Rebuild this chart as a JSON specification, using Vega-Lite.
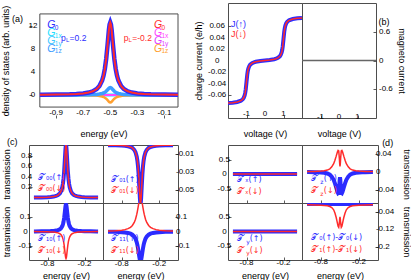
{
"$schema": "https://vega.github.io/schema/vega-lite/v6.json",
"padding": {"left": 1, "top": 0, "right": 0, "bottom": 0},
"background": "white",
"config": {
 "view": {"stroke": "#4d4d4d", "strokeWidth": 1},
 "axis": {"domain": false, "grid": false, "labels": false, "tickSize": -3, "tickColor": "#333", "tickWidth": 0.8, "titleFont": "Liberation Sans", "titleFontSize": 9, "titleFontWeight": "normal", "titleColor": "#000"},
 "text": {"font": "Liberation Sans", "fontSize": 8}
},
"datasets": {
 "dos": [
  {"E":-1.02,"G0":0.042,"G1p":0.004,"G1m":-0.004,"T00":0.0033,"T01":-0.0002,"T10u":0.0006,"T10d":-0.0006,"T11u":-0.0016,"T11d":0.0032,"Tzu":-0.0005,"Tzd":0.0005,"D0":-0.004,"D1":-0.008,"Tx":0,"Ty":0},
  {"E":-1.0,"G0":0.045,"G1p":0.005,"G1m":-0.005,"T00":0.0036,"T01":-0.0002,"T10u":0.0007,"T10d":-0.0007,"T11u":-0.0017,"T11d":0.0034,"Tzu":-0.0005,"Tzd":0.0005,"D0":-0.004,"D1":-0.008,"Tx":0,"Ty":0},
  {"E":-0.9,"G0":0.071,"G1p":0.007,"G1m":-0.007,"T00":0.0056,"T01":-0.0004,"T10u":0.0011,"T10d":-0.0011,"T11u":-0.0026,"T11d":0.0053,"Tzu":-0.0008,"Tzd":0.0008,"D0":-0.004,"D1":-0.009,"Tx":0,"Ty":0},
  {"E":-0.8,"G0":0.125,"G1p":0.013,"G1m":-0.013,"T00":0.0099,"T01":-0.0007,"T10u":0.0019,"T10d":-0.0019,"T11u":-0.0046,"T11d":0.0092,"Tzu":-0.0015,"Tzd":0.0015,"D0":-0.004,"D1":-0.01,"Tx":0,"Ty":0},
  {"E":-0.75,"G0":0.179,"G1p":0.018,"G1m":-0.018,"T00":0.0142,"T01":-0.0009,"T10u":0.0027,"T10d":-0.0027,"T11u":-0.0066,"T11d":0.0131,"Tzu":-0.0022,"Tzd":0.0022,"D0":-0.004,"D1":-0.011,"Tx":0,"Ty":0},
  {"E":-0.7,"G0":0.277,"G1p":0.029,"G1m":-0.029,"T00":0.022,"T01":-0.0015,"T10u":0.0042,"T10d":-0.0042,"T11u":-0.0101,"T11d":0.0198,"Tzu":-0.0038,"Tzd":0.0038,"D0":-0.004,"D1":-0.013,"Tx":0,"Ty":0},
  {"E":-0.66,"G0":0.428,"G1p":0.044,"G1m":-0.044,"T00":0.034,"T01":-0.0022,"T10u":0.0065,"T10d":-0.0065,"T11u":-0.0154,"T11d":0.0296,"Tzu":-0.0065,"Tzd":0.0065,"D0":-0.004,"D1":-0.016,"Tx":0,"Ty":0},
  {"E":-0.63,"G0":0.638,"G1p":0.066,"G1m":-0.066,"T00":0.0506,"T01":-0.0033,"T10u":0.0096,"T10d":-0.0096,"T11u":-0.0225,"T11d":0.0421,"Tzu":-0.011,"Tzd":0.011,"D0":-0.004,"D1":-0.021,"Tx":0,"Ty":0},
  {"E":-0.6,"G0":1.041,"G1p":0.107,"G1m":-0.107,"T00":0.0826,"T01":-0.0055,"T10u":0.0157,"T10d":-0.0157,"T11u":-0.0354,"T11d":0.0635,"Tzu":-0.018,"Tzd":0.018,"D0":-0.004,"D1":-0.031,"Tx":0,"Ty":0},
  {"E":-0.58,"G0":1.554,"G1p":0.16,"G1m":-0.16,"T00":0.1233,"T01":-0.0081,"T10u":0.0234,"T10d":-0.0234,"T11u":-0.0505,"T11d":0.0864,"Tzu":-0.026,"Tzd":0.026,"D0":-0.004,"D1":-0.046,"Tx":0,"Ty":0},
  {"E":-0.56,"G0":2.52,"G1p":0.26,"G1m":-0.26,"T00":0.2,"T01":-0.0132,"T10u":0.038,"T10d":-0.038,"T11u":-0.0756,"T11d":0.12,"Tzu":-0.035,"Tzd":0.035,"D0":-0.004,"D1":-0.066,"Tx":0,"Ty":0},
  {"E":-0.55,"G0":3.335,"G1p":0.344,"G1m":-0.344,"T00":0.2647,"T01":-0.0175,"T10u":0.0503,"T10d":-0.0503,"T11u":-0.094,"T11d":0.1416,"Tzu":-0.04,"Tzd":0.04,"D0":-0.004,"D1":-0.079,"Tx":0,"Ty":0},
  {"E":-0.54,"G0":4.536,"G1p":0.468,"G1m":-0.468,"T00":0.36,"T01":-0.0238,"T10u":0.0684,"T10d":-0.0684,"T11u":-0.1173,"T11d":0.1662,"Tzu":-0.045,"Tzd":0.045,"D0":-0.004,"D1":-0.093,"Tx":0,"Ty":0},
  {"E":-0.53,"G0":6.3,"G1p":0.65,"G1m":-0.65,"T00":0.5,"T01":-0.033,"T10u":0.095,"T10d":-0.095,"T11u":-0.1454,"T11d":0.192,"Tzu":-0.048,"Tzd":0.048,"D0":-0.004,"D1":-0.106,"Tx":0,"Ty":0},
  {"E":-0.52,"G0":8.723,"G1p":0.9,"G1m":-0.9,"T00":0.6923,"T01":-0.0457,"T10u":0.1315,"T10d":-0.1315,"T11u":-0.1754,"T11d":0.216,"Tzu":-0.047,"Tzd":0.047,"D0":-0.004,"D1":-0.111,"Tx":0,"Ty":0},
  {"E":-0.51,"G0":11.34,"G1p":1.17,"G1m":-1.17,"T00":0.9,"T01":-0.0594,"T10u":0.171,"T10d":-0.171,"T11u":-0.2001,"T11d":0.2335,"Tzu":-0.03,"Tzd":0.03,"D0":-0.004,"D1":-0.091,"Tx":0,"Ty":0},
  {"E":-0.505,"G0":12.26,"G1p":1.265,"G1m":-1.265,"T00":0.973,"T01":-0.0642,"T10u":0.1849,"T10d":-0.1849,"T11u":-0.2074,"T11d":0.2383,"Tzu":-0.018,"Tzd":0.018,"D0":-0.004,"D1":-0.073,"Tx":0,"Ty":0},
  {"E":-0.5,"G0":12.6,"G1p":1.3,"G1m":-1.3,"T00":1,"T01":-0.066,"T10u":0.19,"T10d":-0.19,"T11u":-0.21,"T11d":0.24,"Tzu":-0.012,"Tzd":0.012,"D0":-0.004,"D1":-0.063,"Tx":0,"Ty":0},
  {"E":-0.495,"G0":12.26,"G1p":1.265,"G1m":-1.265,"T00":0.973,"T01":-0.0642,"T10u":0.1849,"T10d":-0.1849,"T11u":-0.2074,"T11d":0.2383,"Tzu":-0.018,"Tzd":0.018,"D0":-0.004,"D1":-0.073,"Tx":0,"Ty":0},
  {"E":-0.49,"G0":11.34,"G1p":1.17,"G1m":-1.17,"T00":0.9,"T01":-0.0594,"T10u":0.171,"T10d":-0.171,"T11u":-0.2001,"T11d":0.2335,"Tzu":-0.03,"Tzd":0.03,"D0":-0.004,"D1":-0.091,"Tx":0,"Ty":0},
  {"E":-0.48,"G0":8.723,"G1p":0.9,"G1m":-0.9,"T00":0.6923,"T01":-0.0457,"T10u":0.1315,"T10d":-0.1315,"T11u":-0.1754,"T11d":0.216,"Tzu":-0.047,"Tzd":0.047,"D0":-0.004,"D1":-0.111,"Tx":0,"Ty":0},
  {"E":-0.47,"G0":6.3,"G1p":0.65,"G1m":-0.65,"T00":0.5,"T01":-0.033,"T10u":0.095,"T10d":-0.095,"T11u":-0.1454,"T11d":0.192,"Tzu":-0.048,"Tzd":0.048,"D0":-0.004,"D1":-0.106,"Tx":0,"Ty":0},
  {"E":-0.46,"G0":4.536,"G1p":0.468,"G1m":-0.468,"T00":0.36,"T01":-0.0238,"T10u":0.0684,"T10d":-0.0684,"T11u":-0.1173,"T11d":0.1662,"Tzu":-0.045,"Tzd":0.045,"D0":-0.004,"D1":-0.093,"Tx":0,"Ty":0},
  {"E":-0.45,"G0":3.335,"G1p":0.344,"G1m":-0.344,"T00":0.2647,"T01":-0.0175,"T10u":0.0503,"T10d":-0.0503,"T11u":-0.094,"T11d":0.1416,"Tzu":-0.04,"Tzd":0.04,"D0":-0.004,"D1":-0.079,"Tx":0,"Ty":0},
  {"E":-0.44,"G0":2.52,"G1p":0.26,"G1m":-0.26,"T00":0.2,"T01":-0.0132,"T10u":0.038,"T10d":-0.038,"T11u":-0.0756,"T11d":0.12,"Tzu":-0.035,"Tzd":0.035,"D0":-0.004,"D1":-0.066,"Tx":0,"Ty":0},
  {"E":-0.42,"G0":1.554,"G1p":0.16,"G1m":-0.16,"T00":0.1233,"T01":-0.0081,"T10u":0.0234,"T10d":-0.0234,"T11u":-0.0505,"T11d":0.0864,"Tzu":-0.026,"Tzd":0.026,"D0":-0.004,"D1":-0.046,"Tx":0,"Ty":0},
  {"E":-0.4,"G0":1.041,"G1p":0.107,"G1m":-0.107,"T00":0.0826,"T01":-0.0055,"T10u":0.0157,"T10d":-0.0157,"T11u":-0.0354,"T11d":0.0635,"Tzu":-0.018,"Tzd":0.018,"D0":-0.004,"D1":-0.031,"Tx":0,"Ty":0},
  {"E":-0.37,"G0":0.638,"G1p":0.066,"G1m":-0.066,"T00":0.0506,"T01":-0.0033,"T10u":0.0096,"T10d":-0.0096,"T11u":-0.0225,"T11d":0.0421,"Tzu":-0.011,"Tzd":0.011,"D0":-0.004,"D1":-0.021,"Tx":0,"Ty":0},
  {"E":-0.34,"G0":0.428,"G1p":0.044,"G1m":-0.044,"T00":0.034,"T01":-0.0022,"T10u":0.0065,"T10d":-0.0065,"T11u":-0.0154,"T11d":0.0296,"Tzu":-0.0065,"Tzd":0.0065,"D0":-0.004,"D1":-0.016,"Tx":0,"Ty":0},
  {"E":-0.3,"G0":0.277,"G1p":0.029,"G1m":-0.029,"T00":0.022,"T01":-0.0015,"T10u":0.0042,"T10d":-0.0042,"T11u":-0.0101,"T11d":0.0198,"Tzu":-0.0038,"Tzd":0.0038,"D0":-0.004,"D1":-0.013,"Tx":0,"Ty":0},
  {"E":-0.25,"G0":0.179,"G1p":0.018,"G1m":-0.018,"T00":0.0142,"T01":-0.0009,"T10u":0.0027,"T10d":-0.0027,"T11u":-0.0066,"T11d":0.0131,"Tzu":-0.0022,"Tzd":0.0022,"D0":-0.004,"D1":-0.011,"Tx":0,"Ty":0},
  {"E":-0.2,"G0":0.125,"G1p":0.013,"G1m":-0.013,"T00":0.0099,"T01":-0.0007,"T10u":0.0019,"T10d":-0.0019,"T11u":-0.0046,"T11d":0.0092,"Tzu":-0.0015,"Tzd":0.0015,"D0":-0.004,"D1":-0.01,"Tx":0,"Ty":0},
  {"E":-0.1,"G0":0.071,"G1p":0.007,"G1m":-0.007,"T00":0.0056,"T01":-0.0004,"T10u":0.0011,"T10d":-0.0011,"T11u":-0.0026,"T11d":0.0053,"Tzu":-0.0008,"Tzd":0.0008,"D0":-0.004,"D1":-0.009,"Tx":0,"Ty":0},
  {"E":0.0,"G0":0.045,"G1p":0.005,"G1m":-0.005,"T00":0.0036,"T01":-0.0002,"T10u":0.0007,"T10d":-0.0007,"T11u":-0.0017,"T11d":0.0034,"Tzu":-0.0005,"Tzd":0.0005,"D0":-0.004,"D1":-0.008,"Tx":0,"Ty":0},
  {"E":0.02,"G0":0.042,"G1p":0.004,"G1m":-0.004,"T00":0.0033,"T01":-0.0002,"T10u":0.0006,"T10d":-0.0006,"T11u":-0.0016,"T11d":0.0032,"Tzu":-0.0005,"Tzd":0.0005,"D0":-0.004,"D1":-0.008,"Tx":0,"Ty":0}
 ],
 "iv": [
  {"V":-2,"J":-0.07396,"M":0},{"V":-1.75,"J":-0.07335,"M":0},{"V":-1.5,"J":-0.07216,"M":0},{"V":-1.3,"J":-0.06993,"M":0},
  {"V":-1.2,"J":-0.06728,"M":0},{"V":-1.15,"J":-0.06484,"M":0},{"V":-1.1,"J":-0.0606,"M":0},{"V":-1.07,"J":-0.05634,"M":0},
  {"V":-1.04,"J":-0.04987,"M":0},{"V":-1,"J":-0.03727,"M":0},{"V":-0.96,"J":-0.02465,"M":0},{"V":-0.93,"J":-0.01818,"M":0},
  {"V":-0.9,"J":-0.01393,"M":0},{"V":-0.85,"J":-0.00967,"M":0},{"V":-0.8,"J":-0.00723,"M":0},{"V":-0.7,"J":-0.00455,"M":0},
  {"V":-0.6,"J":-0.00314,"M":0},{"V":-0.5,"J":-0.00225,"M":0},{"V":-0.25,"J":-0.0009,"M":0},{"V":0,"J":0,"M":0},
  {"V":0.25,"J":0.0009,"M":0},{"V":0.5,"J":0.00225,"M":0},{"V":0.6,"J":0.00314,"M":0},{"V":0.7,"J":0.00455,"M":0},
  {"V":0.8,"J":0.00723,"M":0},{"V":0.85,"J":0.00967,"M":0},{"V":0.9,"J":0.01393,"M":0},{"V":0.93,"J":0.01818,"M":0},
  {"V":0.96,"J":0.02465,"M":0},{"V":1,"J":0.03727,"M":0},{"V":1.04,"J":0.04987,"M":0},{"V":1.07,"J":0.05634,"M":0},
  {"V":1.1,"J":0.0606,"M":0},{"V":1.15,"J":0.06484,"M":0},{"V":1.2,"J":0.06728,"M":0},{"V":1.3,"J":0.06993,"M":0},
  {"V":1.5,"J":0.07216,"M":0},{"V":1.75,"J":0.07335,"M":0},{"V":2,"J":0.07396,"M":0}
 ],
 "xE": [{"v": -0.8, "t": "-0.8"}, {"v": -0.2, "t": "-0.2"}],
 "xV": [{"v": -1, "t": "-1"}, {"v": 0, "t": "0"}, {"v": 1, "t": "1"}],
 "yPM1": [{"v": -0.1, "t": "-0.1"}, {"v": 0, "t": "0"}, {"v": 0.1, "t": "0.1"}]
},
"columns": 5,
"spacing": 0,
"bounds": "flush",
"align": "each",
"concat": [
  {"width": 74, "height": 115, "view": {"stroke": null}, "data": {"name": "dos"}, "transform": [{"filter": "datum.E <= 0"}], "layer": [
   {"data": {"values": [{}]}, "mark": {"type": "rect", "fill": "transparent", "stroke": "#4d4d4d", "strokeWidth": 1}, "encoding": {"x": {"datum": -1.02}, "x2": {"datum": 0.0}, "y": {"datum": -2.1}, "y2": {"datum": 14.1}}},
   {"data": {"values": [{}]}, "mark": {"type": "rule", "color": "#22e0ff", "strokeWidth": 3}, "encoding": {"x": {"datum": -1.02}, "x2": {"datum": 0.0}, "y": {"datum": 0}}},
   {"data": {"values": [{}]}, "mark": {"type": "rule", "color": "#ff44ff", "strokeWidth": 2}, "encoding": {"x": {"datum": -1.02}, "x2": {"datum": 0.0}, "y": {"datum": 0}}},
   {"mark": {"type": "line", "color": "#ffa030", "strokeWidth": 2.5}, "encoding": {
     "x": {"field": "E", "type": "quantitative", "scale": {"domain": [-1.02, 0.0], "range": [0, 149]}, "axis": {"values": [-0.9, -0.7, -0.5, -0.3, -0.1], "title": "energy (eV)", "titlePadding": 11}},
     "y": {"field": "G1m", "type": "quantitative", "scale": {"domain": [-2.1, 14.1]}, "axis": {"values": [0, 4, 8, 12], "title": "density of states (arb. units)", "titlePadding": 18}}}},
   {"mark": {"type": "line", "color": "#3d9cff", "strokeWidth": 3.5}, "encoding": {"x": {"field": "E", "type": "quantitative"}, "y": {"field": "G1p", "type": "quantitative"}}},
   {"mark": {"type": "line", "color": "#2b2bff", "strokeWidth": 4.5}, "encoding": {"x": {"field": "E", "type": "quantitative"}, "y": {"field": "G0", "type": "quantitative"}}},
   {"mark": {"type": "line", "color": "#ff2b2b", "strokeWidth": 2}, "encoding": {"x": {"field": "E", "type": "quantitative"}, "y": {"field": "G0", "type": "quantitative"}}},
   {"data": {"values": [{}]}, "mark": {"type": "text", "text": "0", "align": "center", "baseline": "middle"}, "encoding": {"x": {"datum": -1.071}, "y": {"datum": 0}}},
   {"data": {"values": [{}]}, "mark": {"type": "text", "text": "4", "align": "center", "baseline": "middle"}, "encoding": {"x": {"datum": -1.071}, "y": {"datum": 4}}},
   {"data": {"values": [{}]}, "mark": {"type": "text", "text": "8", "align": "center", "baseline": "middle"}, "encoding": {"x": {"datum": -1.071}, "y": {"datum": 8}}},
   {"data": {"values": [{}]}, "mark": {"type": "text", "text": "12", "align": "center", "baseline": "middle"}, "encoding": {"x": {"datum": -1.071}, "y": {"datum": 12}}},
   {"data": {"values": [{"v": -0.9, "t": "-0.9"}, {"v": -0.7, "t": "-0.7"}, {"v": -0.5, "t": "-0.5"}, {"v": -0.3, "t": "-0.3"}, {"v": -0.1, "t": "-0.1"}]}, "mark": {"type": "text", "align": "center", "baseline": "top", "dy": 2}, "encoding": {"x": {"field": "v", "type": "quantitative"}, "y": {"datum": -2.1}, "text": {"field": "t"}}},
   {"data": {"values": [{}]}, "mark": {"type": "text", "text": "(a)", "fontSize": 9, "align": "center", "baseline": "middle"}, "encoding": {"x": {"datum": -1.184}, "y": {"datum": 13.25}}},
   {"data": {"values": [{}]}, "mark": {"type": "text", "text": "G", "fontStyle": "italic", "fontSize": 10.5, "color": "#2b2bff", "align": "left", "baseline": "middle"}, "encoding": {"x": {"datum": -0.965}, "y": {"datum": 12.13}}},
   {"data": {"values": [{}]}, "mark": {"type": "text", "text": "0", "fontSize": 6.5, "color": "#2b2bff", "align": "left", "baseline": "middle", "dx": 7.5, "dy": 2.5}, "encoding": {"x": {"datum": -0.965}, "y": {"datum": 12.13}}},
   {"data": {"values": [{}]}, "mark": {"type": "text", "text": "G", "fontStyle": "italic", "fontSize": 10.5, "color": "#22e0ff", "align": "left", "baseline": "middle"}, "encoding": {"x": {"datum": -0.965}, "y": {"datum": 10.72}}},
   {"data": {"values": [{}]}, "mark": {"type": "text", "text": "1x", "fontSize": 6.5, "color": "#22e0ff", "align": "left", "baseline": "middle", "dx": 7.5, "dy": 2.5}, "encoding": {"x": {"datum": -0.965}, "y": {"datum": 10.72}}},
   {"data": {"values": [{}]}, "mark": {"type": "text", "text": "G", "fontStyle": "italic", "fontSize": 10.5, "color": "#40c8ff", "align": "left", "baseline": "middle"}, "encoding": {"x": {"datum": -0.965}, "y": {"datum": 9.38}}},
   {"data": {"values": [{}]}, "mark": {"type": "text", "text": "1y", "fontSize": 6.5, "color": "#40c8ff", "align": "left", "baseline": "middle", "dx": 7.5, "dy": 2.5}, "encoding": {"x": {"datum": -0.965}, "y": {"datum": 9.38}}},
   {"data": {"values": [{}]}, "mark": {"type": "text", "text": "G", "fontStyle": "italic", "fontSize": 10.5, "color": "#3d9cff", "align": "left", "baseline": "middle"}, "encoding": {"x": {"datum": -0.965}, "y": {"datum": 8.04}}},
   {"data": {"values": [{}]}, "mark": {"type": "text", "text": "1z", "fontSize": 6.5, "color": "#3d9cff", "align": "left", "baseline": "middle", "dx": 7.5, "dy": 2.5}, "encoding": {"x": {"datum": -0.965}, "y": {"datum": 8.04}}},
   {"data": {"values": [{}]}, "mark": {"type": "text", "text": "p", "fontSize": 8.5, "color": "#2b2bff", "align": "left", "baseline": "middle"}, "encoding": {"x": {"datum": -0.863}, "y": {"datum": 10.0}}},
   {"data": {"values": [{}]}, "mark": {"type": "text", "text": "L", "fontSize": 6, "color": "#2b2bff", "align": "left", "baseline": "middle", "dx": 4.8, "dy": 2.5}, "encoding": {"x": {"datum": -0.863}, "y": {"datum": 10.0}}},
   {"data": {"values": [{}]}, "mark": {"type": "text", "text": "=0.2", "fontSize": 8.5, "color": "#2b2bff", "align": "left", "baseline": "middle", "dx": 8.5}, "encoding": {"x": {"datum": -0.863}, "y": {"datum": 10.0}}},
   {"data": {"values": [{}]}, "mark": {"type": "text", "text": "p", "fontSize": 8.5, "color": "#ff2b2b", "align": "left", "baseline": "middle"}, "encoding": {"x": {"datum": -0.4}, "y": {"datum": 10.0}}},
   {"data": {"values": [{}]}, "mark": {"type": "text", "text": "L", "fontSize": 6, "color": "#ff2b2b", "align": "left", "baseline": "middle", "dx": 4.8, "dy": 2.5}, "encoding": {"x": {"datum": -0.4}, "y": {"datum": 10.0}}},
   {"data": {"values": [{}]}, "mark": {"type": "text", "text": "=-0.2", "fontSize": 8.5, "color": "#ff2b2b", "align": "left", "baseline": "middle", "dx": 8.5}, "encoding": {"x": {"datum": -0.4}, "y": {"datum": 10.0}}},
   {"data": {"values": [{}]}, "mark": {"type": "text", "text": "G", "fontStyle": "italic", "fontSize": 10.5, "color": "#ff2b2b", "align": "left", "baseline": "middle"}, "encoding": {"x": {"datum": -0.178}, "y": {"datum": 12.13}}},
   {"data": {"values": [{}]}, "mark": {"type": "text", "text": "0", "fontSize": 6.5, "color": "#ff2b2b", "align": "left", "baseline": "middle", "dx": 7.5, "dy": 2.5}, "encoding": {"x": {"datum": -0.178}, "y": {"datum": 12.13}}},
   {"data": {"values": [{}]}, "mark": {"type": "text", "text": "G", "fontStyle": "italic", "fontSize": 10.5, "color": "#ff44ff", "align": "left", "baseline": "middle"}, "encoding": {"x": {"datum": -0.178}, "y": {"datum": 10.72}}},
   {"data": {"values": [{}]}, "mark": {"type": "text", "text": "1x", "fontSize": 6.5, "color": "#ff44ff", "align": "left", "baseline": "middle", "dx": 7.5, "dy": 2.5}, "encoding": {"x": {"datum": -0.178}, "y": {"datum": 10.72}}},
   {"data": {"values": [{}]}, "mark": {"type": "text", "text": "G", "fontStyle": "italic", "fontSize": 10.5, "color": "#e040ff", "align": "left", "baseline": "middle"}, "encoding": {"x": {"datum": -0.178}, "y": {"datum": 9.38}}},
   {"data": {"values": [{}]}, "mark": {"type": "text", "text": "1y", "fontSize": 6.5, "color": "#e040ff", "align": "left", "baseline": "middle", "dx": 7.5, "dy": 2.5}, "encoding": {"x": {"datum": -0.178}, "y": {"datum": 9.38}}},
   {"data": {"values": [{}]}, "mark": {"type": "text", "text": "G", "fontStyle": "italic", "fontSize": 10.5, "color": "#ffa030", "align": "left", "baseline": "middle"}, "encoding": {"x": {"datum": -0.178}, "y": {"datum": 8.04}}},
   {"data": {"values": [{}]}, "mark": {"type": "text", "text": "1z", "fontSize": 6.5, "color": "#ffa030", "align": "left", "baseline": "middle", "dx": 7.5, "dy": 2.5}, "encoding": {"x": {"datum": -0.178}, "y": {"datum": 8.04}}}
  ]},
  {"width": 75, "height": 142, "view": {"stroke": null}, "data": {"values": [{}]}, "mark": {"type": "point", "opacity": 0}},
  {"width": 50, "height": 1, "view": {"stroke": null}, "data": {"values": [{}]}, "mark": {"type": "point", "opacity": 0}},
  {"width": 74, "height": 115, "data": {"name": "iv"}, "layer": [
    {"mark": {"type": "line", "color": "#2b2bff", "strokeWidth": 4, "clip": true}, "encoding": {
      "x": {"field": "V", "type": "quantitative", "scale": {"domain": [-2, 2]}, "axis": {"values": [-1, 0, 1], "title": "voltage (V)", "titlePadding": 11}},
      "y": {"field": "J", "type": "quantitative", "scale": {"domain": [-0.083, 0.081]}, "axis": {"values": [-0.06, -0.04, -0.02, 0, 0.02, 0.04, 0.06], "title": "charge current (e/h)", "titlePadding": 24}}}},
    {"mark": {"type": "line", "color": "#ff2b2b", "strokeWidth": 1.5, "clip": true}, "encoding": {"x": {"field": "V", "type": "quantitative"}, "y": {"field": "J", "type": "quantitative"}}},
    {"data": {"values": [{}]}, "mark": {"type": "text", "text": "-0.06", "align": "center", "baseline": "middle"}, "encoding": {"x": {"datum": -2.584}, "y": {"datum": -0.06}}},
    {"data": {"values": [{}]}, "mark": {"type": "text", "text": "-0.04", "align": "center", "baseline": "middle"}, "encoding": {"x": {"datum": -2.584}, "y": {"datum": -0.04}}},
    {"data": {"values": [{}]}, "mark": {"type": "text", "text": "-0.02", "align": "center", "baseline": "middle"}, "encoding": {"x": {"datum": -2.584}, "y": {"datum": -0.02}}},
    {"data": {"values": [{}]}, "mark": {"type": "text", "text": "0", "align": "center", "baseline": "middle"}, "encoding": {"x": {"datum": -2.584}, "y": {"datum": 0}}},
    {"data": {"values": [{}]}, "mark": {"type": "text", "text": "0.02", "align": "center", "baseline": "middle"}, "encoding": {"x": {"datum": -2.584}, "y": {"datum": 0.02}}},
    {"data": {"values": [{}]}, "mark": {"type": "text", "text": "0.04", "align": "center", "baseline": "middle"}, "encoding": {"x": {"datum": -2.584}, "y": {"datum": 0.04}}},
    {"data": {"values": [{}]}, "mark": {"type": "text", "text": "0.06", "align": "center", "baseline": "middle"}, "encoding": {"x": {"datum": -2.584}, "y": {"datum": 0.06}}},
    {"data": {"name": "xV"}, "mark": {"type": "text", "align": "center", "baseline": "top", "dy": 2}, "encoding": {"x": {"field": "v", "type": "quantitative"}, "y": {"datum": -0.083}, "text": {"field": "t"}}},
    {"data": {"values": [{}]}, "mark": {"type": "text", "text": "J(↑)", "fontSize": 9, "color": "#2b2bff", "align": "left", "baseline": "middle"}, "encoding": {"x": {"datum": -1.84}, "y": {"datum": 0.0639}}},
    {"data": {"values": [{}]}, "mark": {"type": "text", "text": "J(↓)", "fontSize": 9, "color": "#ff2b2b", "align": "left", "baseline": "middle"}, "encoding": {"x": {"datum": -1.84}, "y": {"datum": 0.0468}}}
  ]},
  {"width": 74, "height": 115, "data": {"name": "iv"}, "layer": [
    {"mark": {"type": "line", "color": "#666666", "strokeWidth": 1.5, "clip": true}, "encoding": {
      "x": {"field": "V", "type": "quantitative", "scale": {"domain": [-2, 2]}, "axis": {"values": [-1, 0, 1], "title": "voltage (V)", "titlePadding": 11}},
      "y": {"field": "M", "type": "quantitative", "scale": {"domain": [-1.05, 1.05]}, "axis": {"orient": "right", "values": [-0.6, 0, 0.6], "title": "magneto current", "titlePadding": 20}}}},
    {"data": {"values": [{"v": -0.6, "t": "-0.6"}, {"v": 0, "t": "0"}, {"v": 0.6, "t": "0.6"}]}, "mark": {"type": "text", "align": "left", "baseline": "middle", "dx": 3}, "encoding": {"x": {"datum": 2}, "y": {"field": "v", "type": "quantitative"}, "text": {"field": "t"}}},
    {"data": {"name": "xV"}, "mark": {"type": "text", "align": "center", "baseline": "top", "dy": 2}, "encoding": {"x": {"field": "v", "type": "quantitative"}, "y": {"datum": -1.05}, "text": {"field": "t"}}},
    {"data": {"values": [{}]}, "mark": {"type": "text", "text": "(b)", "fontSize": 9, "align": "center", "baseline": "middle"}, "encoding": {"x": {"datum": 2.43}, "y": {"datum": 0.81}}}
  ]},

  {"width": 74, "height": 58, "data": {"name": "dos"}, "layer": [
     {"mark": {"type": "line", "color": "#2b2bff", "strokeWidth": 4, "clip": true}, "encoding": {
       "x": {"field": "E", "type": "quantitative", "scale": {"domain": [-1.02, 0.02]}, "axis": {"values": [-0.8, -0.2], "title": null}},
       "y": {"field": "T00", "type": "quantitative", "scale": {"domain": [-0.015, 1.0]}, "axis": {"values": [0.2, 0.4, 0.6, 0.8], "title": "transmission", "titlePadding": 17}}}},
     {"mark": {"type": "line", "color": "#ff2b2b", "strokeWidth": 1.5, "clip": true}, "encoding": {"x": {"field": "E", "type": "quantitative"}, "y": {"field": "T00", "type": "quantitative"}}},
     {"data": {"values": [{}]}, "mark": {"type": "text", "text": "0.2", "align": "center", "baseline": "middle"}, "encoding": {"x": {"datum": -1.139}, "y": {"datum": 0.2}}},
     {"data": {"values": [{}]}, "mark": {"type": "text", "text": "0.4", "align": "center", "baseline": "middle"}, "encoding": {"x": {"datum": -1.139}, "y": {"datum": 0.4}}},
     {"data": {"values": [{}]}, "mark": {"type": "text", "text": "0.6", "align": "center", "baseline": "middle"}, "encoding": {"x": {"datum": -1.139}, "y": {"datum": 0.6}}},
     {"data": {"values": [{}]}, "mark": {"type": "text", "text": "0.8", "align": "center", "baseline": "middle"}, "encoding": {"x": {"datum": -1.139}, "y": {"datum": 0.8}}},
     {"data": {"values": [{}]}, "mark": {"type": "text", "text": "(c)", "fontSize": 9, "align": "center", "baseline": "middle"}, "encoding": {"x": {"datum": -1.371}, "y": {"datum": 1.052}}},
     {"data": {"values": [{}]}, "mark": {"type": "text", "text": "𝒯′₀₀(↑)", "font": "DejaVu Sans", "fontSize": 8, "color": "#2b2bff", "align": "left", "baseline": "middle"}, "encoding": {"x": {"datum": -0.95}, "y": {"datum": 0.37}}},
     {"data": {"values": [{}]}, "mark": {"type": "text", "text": "𝒯′₀₀(↓)", "font": "DejaVu Sans", "fontSize": 8, "color": "#ff2b2b", "align": "left", "baseline": "middle"}, "encoding": {"x": {"datum": -0.95}, "y": {"datum": 0.16}}}
  ]},
  {"width": 75, "height": 58, "data": {"name": "dos"}, "layer": [
     {"mark": {"type": "line", "color": "#2b2bff", "strokeWidth": 4, "clip": true}, "encoding": {
       "x": {"field": "E", "type": "quantitative", "scale": {"domain": [-1.02, 0.02]}, "axis": {"values": [-0.8, -0.2], "title": null}},
       "y": {"field": "T01", "type": "quantitative", "scale": {"domain": [-0.0625, -0.0005]}, "axis": {"orient": "right", "values": [-0.05, -0.03, -0.01], "title": null}}}},
     {"mark": {"type": "line", "color": "#ff2b2b", "strokeWidth": 1.5, "clip": true}, "encoding": {"x": {"field": "E", "type": "quantitative"}, "y": {"field": "T01", "type": "quantitative"}}},
     {"data": {"values": [{"v": -0.05, "t": "-0.05"}, {"v": -0.03, "t": "-0.03"}, {"v": -0.01, "t": "-0.01"}]}, "mark": {"type": "text", "align": "left", "baseline": "middle", "dx": 3}, "encoding": {"x": {"datum": 0.02}, "y": {"field": "v", "type": "quantitative"}, "text": {"field": "t"}}},
     {"data": {"values": [{}]}, "mark": {"type": "text", "text": "𝒯′₀₁(↑)", "font": "DejaVu Sans", "fontSize": 8, "color": "#2b2bff", "align": "left", "baseline": "middle"}, "encoding": {"x": {"datum": -0.965}, "y": {"datum": -0.039}}},
     {"data": {"values": [{}]}, "mark": {"type": "text", "text": "𝒯′₀₁(↓)", "font": "DejaVu Sans", "fontSize": 8, "color": "#ff2b2b", "align": "left", "baseline": "middle"}, "encoding": {"x": {"datum": -0.965}, "y": {"datum": -0.0518}}}
  ]},
  {"width": 50, "height": 1, "view": {"stroke": null}, "data": {"values": [{}]}, "mark": {"type": "point", "opacity": 0}},
  {"width": 74, "height": 58, "data": {"name": "dos"}, "layer": [
     {"mark": {"type": "line", "color": "#2b2bff", "strokeWidth": 4, "clip": true}, "encoding": {
       "x": {"field": "E", "type": "quantitative", "scale": {"domain": [-1.02, 0.02]}, "axis": {"values": [-0.8, -0.2], "title": null}},
       "y": {"field": "Tx", "type": "quantitative", "scale": {"domain": [-0.93, 0.955]}, "axis": {"values": [-0.5, 0, 0.5], "title": null}}}},
     {"mark": {"type": "line", "color": "#ff2b2b", "strokeWidth": 1.5, "clip": true}, "encoding": {"x": {"field": "E", "type": "quantitative"}, "y": {"field": "Tx", "type": "quantitative"}}},
     {"data": {"values": [{}]}, "mark": {"type": "text", "text": "-0.5", "align": "center", "baseline": "middle"}, "encoding": {"x": {"datum": -1.158}, "y": {"datum": -0.5}}},
     {"data": {"values": [{}]}, "mark": {"type": "text", "text": "0", "align": "center", "baseline": "middle"}, "encoding": {"x": {"datum": -1.158}, "y": {"datum": 0}}},
     {"data": {"values": [{}]}, "mark": {"type": "text", "text": "0.5", "align": "center", "baseline": "middle"}, "encoding": {"x": {"datum": -1.158}, "y": {"datum": 0.5}}},
     {"data": {"values": [{}]}, "mark": {"type": "text", "text": "𝒯′ₓ(↑)", "font": "DejaVu Sans", "fontSize": 8, "color": "#2b2bff", "align": "left", "baseline": "middle"}, "encoding": {"x": {"datum": -0.95}, "y": {"datum": -0.211}}},
     {"data": {"values": [{}]}, "mark": {"type": "text", "text": "𝒯′ₓ(↓)", "font": "DejaVu Sans", "fontSize": 8, "color": "#ff2b2b", "align": "left", "baseline": "middle"}, "encoding": {"x": {"datum": -0.95}, "y": {"datum": -0.63}}}
  ]},
  {"width": 76, "height": 58, "data": {"name": "dos"}, "layer": [
     {"mark": {"type": "line", "color": "#2b2bff", "strokeWidth": 4, "clip": true}, "encoding": {
       "x": {"field": "E", "type": "quantitative", "scale": {"domain": [-1.02, 0.02]}, "axis": {"values": [-0.8, -0.2], "title": null}},
       "y": {"field": "Tzu", "type": "quantitative", "scale": {"domain": [-0.063, 0.058]}, "axis": {"orient": "right", "values": [-0.04, 0, 0.04], "title": "transmission", "titlePadding": 23}}}},
     {"mark": {"type": "line", "color": "#ff2b2b", "strokeWidth": 1.5, "clip": true}, "encoding": {"x": {"field": "E", "type": "quantitative"}, "y": {"field": "Tzd", "type": "quantitative"}}},
     {"data": {"values": [{"v": -0.04, "t": "-0.04"}, {"v": 0, "t": "0"}, {"v": 0.04, "t": "0.04"}]}, "mark": {"type": "text", "align": "left", "baseline": "middle", "dx": 3}, "encoding": {"x": {"datum": 0.02}, "y": {"field": "v", "type": "quantitative"}, "text": {"field": "t"}}},
     {"data": {"values": [{}]}, "mark": {"type": "text", "text": "(d)", "fontSize": 9, "align": "center", "baseline": "middle"}, "encoding": {"x": {"datum": 0.252}, "y": {"datum": 0.0643}}},
     {"data": {"values": [{}]}, "mark": {"type": "text", "text": "𝒯′", "font": "DejaVu Sans", "fontSize": 8, "color": "#2b2bff", "align": "left", "baseline": "middle"}, "encoding": {"x": {"datum": -0.952}, "y": {"datum": -0.0171}}},
     {"data": {"values": [{}]}, "mark": {"type": "text", "text": "z", "font": "DejaVu Sans", "fontSize": 6, "color": "#2b2bff", "align": "left", "baseline": "middle", "dx": 9, "dy": 2.5}, "encoding": {"x": {"datum": -0.952}, "y": {"datum": -0.0171}}},
     {"data": {"values": [{}]}, "mark": {"type": "text", "text": "(↑)", "font": "DejaVu Sans", "fontSize": 8, "color": "#2b2bff", "align": "left", "baseline": "middle", "dx": 12.5}, "encoding": {"x": {"datum": -0.952}, "y": {"datum": -0.0171}}},
     {"data": {"values": [{}]}, "mark": {"type": "text", "text": "𝒯′", "font": "DejaVu Sans", "fontSize": 8, "color": "#ff2b2b", "align": "left", "baseline": "middle"}, "encoding": {"x": {"datum": -0.952}, "y": {"datum": -0.0442}}},
     {"data": {"values": [{}]}, "mark": {"type": "text", "text": "z", "font": "DejaVu Sans", "fontSize": 6, "color": "#ff2b2b", "align": "left", "baseline": "middle", "dx": 9, "dy": 2.5}, "encoding": {"x": {"datum": -0.952}, "y": {"datum": -0.0442}}},
     {"data": {"values": [{}]}, "mark": {"type": "text", "text": "(↓)", "font": "DejaVu Sans", "fontSize": 8, "color": "#ff2b2b", "align": "left", "baseline": "middle", "dx": 12.5}, "encoding": {"x": {"datum": -0.952}, "y": {"datum": -0.0442}}}
  ]},

  {"width": 74, "height": 57, "data": {"name": "dos"}, "layer": [
     {"mark": {"type": "line", "color": "#2b2bff", "strokeWidth": 4, "clip": true}, "encoding": {
       "x": {"field": "E", "type": "quantitative", "scale": {"domain": [-1.02, 0.02]}, "axis": {"values": [-0.8, -0.2], "title": "energy (eV)", "titlePadding": 11}},
       "y": {"field": "T10u", "type": "quantitative", "scale": {"domain": [-0.185, 0.18]}, "axis": {"values": [-0.1, 0, 0.1], "title": "transmission", "titlePadding": 17}}}},
     {"mark": {"type": "line", "color": "#ff2b2b", "strokeWidth": 1.5, "clip": true}, "encoding": {"x": {"field": "E", "type": "quantitative"}, "y": {"field": "T10d", "type": "quantitative"}}},
     {"data": {"values": [{}]}, "mark": {"type": "text", "text": "-0.1", "align": "center", "baseline": "middle"}, "encoding": {"x": {"datum": -1.158}, "y": {"datum": -0.1}}},
     {"data": {"values": [{}]}, "mark": {"type": "text", "text": "0", "align": "center", "baseline": "middle"}, "encoding": {"x": {"datum": -1.158}, "y": {"datum": 0}}},
     {"data": {"values": [{}]}, "mark": {"type": "text", "text": "0.1", "align": "center", "baseline": "middle"}, "encoding": {"x": {"datum": -1.158}, "y": {"datum": 0.1}}},
     {"data": {"name": "xE"}, "mark": {"type": "text", "align": "center", "baseline": "top", "dy": 2}, "encoding": {"x": {"field": "v", "type": "quantitative"}, "y": {"datum": -0.185}, "text": {"field": "t"}}},
     {"data": {"values": [{}]}, "mark": {"type": "text", "text": "𝒯′₁₀(↑)", "font": "DejaVu Sans", "fontSize": 8, "color": "#2b2bff", "align": "left", "baseline": "middle"}, "encoding": {"x": {"datum": -0.95}, "y": {"datum": -0.0504}}},
     {"data": {"values": [{}]}, "mark": {"type": "text", "text": "𝒯′₁₀(↓)", "font": "DejaVu Sans", "fontSize": 8, "color": "#ff2b2b", "align": "left", "baseline": "middle"}, "encoding": {"x": {"datum": -0.95}, "y": {"datum": -0.1336}}}
  ]},
  {"width": 75, "height": 57, "data": {"name": "dos"}, "layer": [
     {"mark": {"type": "line", "color": "#2b2bff", "strokeWidth": 4, "clip": true}, "encoding": {
       "x": {"field": "E", "type": "quantitative", "scale": {"domain": [-1.02, 0.02]}, "axis": {"values": [-0.8, -0.2], "title": "energy (eV)", "titlePadding": 11}},
       "y": {"field": "T11u", "type": "quantitative", "scale": {"domain": [-0.185, 0.18]}, "axis": {"orient": "right", "values": [-0.1, 0, 0.1], "title": null}}}},
     {"mark": {"type": "line", "color": "#ff2b2b", "strokeWidth": 1.5, "clip": true}, "encoding": {"x": {"field": "E", "type": "quantitative"}, "y": {"field": "T11d", "type": "quantitative"}}},
     {"data": {"name": "yPM1"}, "mark": {"type": "text", "align": "left", "baseline": "middle", "dx": 3}, "encoding": {"x": {"datum": 0.02}, "y": {"field": "v", "type": "quantitative"}, "text": {"field": "t"}}},
     {"data": {"name": "xE"}, "mark": {"type": "text", "align": "center", "baseline": "top", "dy": 2}, "encoding": {"x": {"field": "v", "type": "quantitative"}, "y": {"datum": -0.185}, "text": {"field": "t"}}},
     {"data": {"values": [{}]}, "mark": {"type": "text", "text": "𝒯′₁₁(↑)", "font": "DejaVu Sans", "fontSize": 8, "color": "#2b2bff", "align": "left", "baseline": "middle"}, "encoding": {"x": {"datum": -0.965}, "y": {"datum": -0.0504}}},
     {"data": {"values": [{}]}, "mark": {"type": "text", "text": "𝒯′₁₁(↓)", "font": "DejaVu Sans", "fontSize": 8, "color": "#ff2b2b", "align": "left", "baseline": "middle"}, "encoding": {"x": {"datum": -0.965}, "y": {"datum": -0.1336}}}
  ]},
  {"width": 50, "height": 1, "view": {"stroke": null}, "data": {"values": [{}]}, "mark": {"type": "point", "opacity": 0}},
  {"width": 74, "height": 57, "data": {"name": "dos"}, "layer": [
     {"mark": {"type": "line", "color": "#2b2bff", "strokeWidth": 4, "clip": true}, "encoding": {
       "x": {"field": "E", "type": "quantitative", "scale": {"domain": [-1.02, 0.02]}, "axis": {"values": [-0.8, -0.2], "title": "energy (eV)", "titlePadding": 11}},
       "y": {"field": "Ty", "type": "quantitative", "scale": {"domain": [-0.9, 0.88]}, "axis": {"values": [-0.5, 0, 0.5], "title": null}}}},
     {"mark": {"type": "line", "color": "#ff2b2b", "strokeWidth": 1.5, "clip": true}, "encoding": {"x": {"field": "E", "type": "quantitative"}, "y": {"field": "Ty", "type": "quantitative"}}},
     {"data": {"values": [{}]}, "mark": {"type": "text", "text": "-0.5", "align": "center", "baseline": "middle"}, "encoding": {"x": {"datum": -1.158}, "y": {"datum": -0.5}}},
     {"data": {"values": [{}]}, "mark": {"type": "text", "text": "0", "align": "center", "baseline": "middle"}, "encoding": {"x": {"datum": -1.158}, "y": {"datum": 0}}},
     {"data": {"values": [{}]}, "mark": {"type": "text", "text": "0.5", "align": "center", "baseline": "middle"}, "encoding": {"x": {"datum": -1.158}, "y": {"datum": 0.5}}},
     {"data": {"name": "xE"}, "mark": {"type": "text", "align": "center", "baseline": "top", "dy": 2}, "encoding": {"x": {"field": "v", "type": "quantitative"}, "y": {"datum": -0.9}, "text": {"field": "t"}}},
     {"data": {"values": [{}]}, "mark": {"type": "text", "text": "𝒯′", "font": "DejaVu Sans", "fontSize": 8, "color": "#2b2bff", "align": "left", "baseline": "middle"}, "encoding": {"x": {"datum": -0.95}, "y": {"datum": -0.275}}},
     {"data": {"values": [{}]}, "mark": {"type": "text", "text": "y", "font": "DejaVu Sans", "fontSize": 6, "color": "#2b2bff", "align": "left", "baseline": "middle", "dx": 9, "dy": 2.5}, "encoding": {"x": {"datum": -0.95}, "y": {"datum": -0.275}}},
     {"data": {"values": [{}]}, "mark": {"type": "text", "text": "(↑)", "font": "DejaVu Sans", "fontSize": 8, "color": "#2b2bff", "align": "left", "baseline": "middle", "dx": 12.5}, "encoding": {"x": {"datum": -0.95}, "y": {"datum": -0.275}}},
     {"data": {"values": [{}]}, "mark": {"type": "text", "text": "𝒯′", "font": "DejaVu Sans", "fontSize": 8, "color": "#ff2b2b", "align": "left", "baseline": "middle"}, "encoding": {"x": {"datum": -0.95}, "y": {"datum": -0.681}}},
     {"data": {"values": [{}]}, "mark": {"type": "text", "text": "y", "font": "DejaVu Sans", "fontSize": 6, "color": "#ff2b2b", "align": "left", "baseline": "middle", "dx": 9, "dy": 2.5}, "encoding": {"x": {"datum": -0.95}, "y": {"datum": -0.681}}},
     {"data": {"values": [{}]}, "mark": {"type": "text", "text": "(↓)", "font": "DejaVu Sans", "fontSize": 8, "color": "#ff2b2b", "align": "left", "baseline": "middle", "dx": 12.5}, "encoding": {"x": {"datum": -0.95}, "y": {"datum": -0.681}}}
  ]},
  {"width": 76, "height": 57, "data": {"name": "dos"}, "layer": [
     {"mark": {"type": "line", "color": "#2b2bff", "strokeWidth": 4, "clip": true}, "encoding": {
       "x": {"field": "E", "type": "quantitative", "scale": {"domain": [-1.02, 0.02]}, "axis": {"values": [-0.8, -0.2], "title": "energy (eV)", "titlePadding": 11}},
       "y": {"field": "D0", "type": "quantitative", "scale": {"domain": [-0.244, 0]}, "axis": {"orient": "right", "values": [-0.2, -0.12, -0.04], "title": "transmission", "titlePadding": 23}}}},
     {"mark": {"type": "line", "color": "#ff2b2b", "strokeWidth": 1.5, "clip": true}, "encoding": {"x": {"field": "E", "type": "quantitative"}, "y": {"field": "D1", "type": "quantitative"}}},
     {"data": {"values": [{"v": -0.2, "t": "-0.2"}, {"v": -0.12, "t": "-0.12"}, {"v": -0.04, "t": "-0.04"}]}, "mark": {"type": "text", "align": "left", "baseline": "middle", "dx": 3}, "encoding": {"x": {"datum": 0.02}, "y": {"field": "v", "type": "quantitative"}, "text": {"field": "t"}}},
     {"data": {"name": "xE"}, "mark": {"type": "text", "align": "center", "baseline": "top", "dy": 2}, "encoding": {"x": {"field": "v", "type": "quantitative"}, "y": {"datum": -0.244}, "text": {"field": "t"}}},
     {"data": {"values": [{}]}, "mark": {"type": "text", "text": "𝒯′₀(↑)-𝒯′₀(↓)", "font": "DejaVu Sans", "fontSize": 8, "color": "#2b2bff", "align": "left", "baseline": "middle"}, "encoding": {"x": {"datum": -0.952}, "y": {"datum": -0.158}}},
     {"data": {"values": [{}]}, "mark": {"type": "text", "text": "𝒯′₁(↑)-𝒯′₁(↓)", "font": "DejaVu Sans", "fontSize": 8, "color": "#ff2b2b", "align": "left", "baseline": "middle"}, "encoding": {"x": {"datum": -0.952}, "y": {"datum": -0.214}}}
  ]}
]
}
